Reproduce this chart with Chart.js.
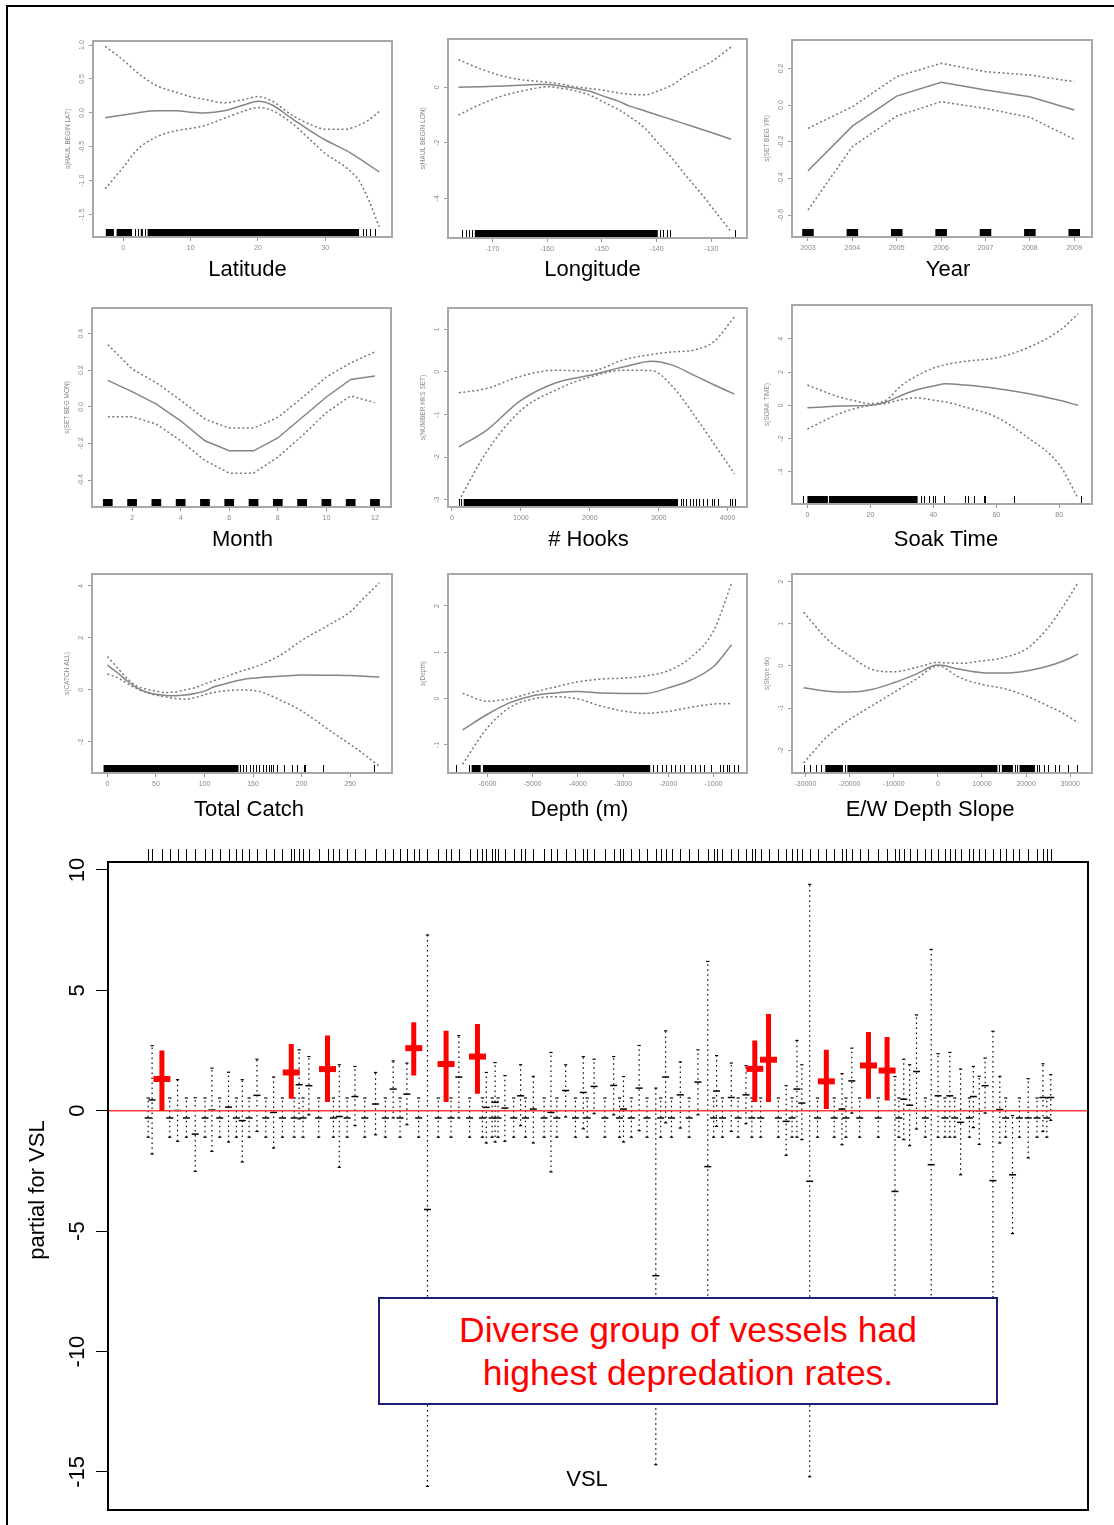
<!DOCTYPE html>
<html><head><meta charset="utf-8">
<script src="https://cdn.jsdelivr.net/npm/chart.js@4.4.1/dist/chart.umd.min.js"></script>
<style>
html,body{margin:0;padding:0;background:#fff;}
body{width:1114px;height:1525px;position:relative;overflow:hidden;font-family:"Liberation Sans",Arial,sans-serif;}
#frame{position:absolute;left:6px;top:5px;right:-4px;bottom:-4px;border-left:2px solid #000;border-top:2px solid #000;}
canvas{position:absolute;}
#note{position:absolute;left:378px;top:1297px;width:620px;height:108px;box-sizing:border-box;border:2px solid #1c1c7a;background:#fff;color:#f00;font-size:35.5px;line-height:43px;text-align:center;padding-top:10px;}
</style></head><body>
<div id="frame"></div>
<canvas id="big" width="1114" height="695" style="left:0;top:830px"></canvas>
<div id="note">Diverse group of vessels had<br>highest depredation rates.</div>
<script>
const FONT = '"Liberation Sans", Arial, sans-serif';

// Latitude
const latX   = [-2.7, 0, 2, 5, 8, 10, 12, 15, 18, 20, 22, 25, 28, 30, 33, 35, 36.5, 38];
const latFit = [-0.07, -0.03, 0.0, 0.03, 0.03, 0.01, 0.0, 0.03, 0.12, 0.17, 0.12, -0.08, -0.28, -0.4, -0.55, -0.67, -0.77, -0.87];
const latUp  = [0.98, 0.78, 0.6, 0.4, 0.3, 0.24, 0.2, 0.15, 0.2, 0.24, 0.18, -0.03, -0.18, -0.24, -0.24, -0.18, -0.1, 0.02];
const latLo  = [-1.12, -0.8, -0.55, -0.35, -0.26, -0.23, -0.19, -0.08, 0.03, 0.08, 0.04, -0.15, -0.42, -0.6, -0.8, -1.0, -1.3, -1.68];
const latXTicks = [0, 10, 20, 30];
const latYTicks = [1.0, 0.5, 0.0, -0.5, -1.0, -1.5];
const latRugBands = [[-2.6,-1.4],[-1,1.3],[2.6,2.9],[3.6,35]];
const latRugTicks = [1.8, 2.2, 3.2, 35.6, 36.1, 36.6, 37.4];

// Longitude
const lonX   = [-176.2, -172, -168, -165, -162, -160, -157, -155, -152, -150, -147, -145, -142, -140, -137, -135, -132, -130, -126.4];
const lonFit = [0.0, 0.02, 0.05, 0.07, 0.1, 0.1, 0.03, -0.03, -0.15, -0.3, -0.5, -0.67, -0.86, -0.99, -1.18, -1.31, -1.5, -1.63, -1.87];
const lonUp  = [1.0, 0.65, 0.4, 0.28, 0.22, 0.18, 0.1, 0.02, -0.05, -0.1, -0.2, -0.25, -0.27, -0.15, 0.1, 0.38, 0.7, 0.92, 1.45];
const lonLo  = [-1.0, -0.6, -0.3, -0.15, -0.03, 0.02, -0.05, -0.12, -0.3, -0.5, -0.8, -1.05, -1.5, -1.95, -2.6, -3.1, -3.8, -4.3, -5.2];
const lonXTicks = [-170, -160, -150, -140, -130];
const lonYTicks = [0, -2, -4];
const lonRugBands = [[-173.2,-139.8]];
const lonRugTicks = [-175.5, -174.8, -174.2, -173.7, -139.3, -138.8, -138.2, -137.6, -125.7];

// Year
const yrX   = [2003, 2004, 2005, 2006, 2007, 2008, 2009];
const yrFit = [-0.358, -0.115, 0.049, 0.124, 0.082, 0.045, -0.027];
const yrUp  = [-0.127, -0.009, 0.155, 0.228, 0.182, 0.164, 0.127];
const yrLo  = [-0.573, -0.227, -0.06, 0.018, -0.018, -0.067, -0.187];
const yrXTicks = [2003, 2004, 2005, 2006, 2007, 2008, 2009];
const yrYTicks = [0.2, 0.0, -0.2, -0.4, -0.6];
const yrRugBands = [[2002.87,2003.13],[2003.87,2004.13],[2004.87,2005.13],[2005.87,2006.13],[2006.87,2007.13],[2007.87,2008.13],[2008.87,2009.13]];

// Month
const monX   = [1, 2, 3, 4, 5, 6, 7, 8, 9, 10, 11, 12];
const monFit = [0.145, 0.083, 0.015, -0.076, -0.185, -0.24, -0.24, -0.17, -0.058, 0.054, 0.15, 0.168];
const monUp  = [0.34, 0.207, 0.132, 0.036, -0.067, -0.116, -0.116, -0.058, 0.05, 0.163, 0.24, 0.3];
const monLo  = [-0.054, -0.054, -0.094, -0.185, -0.293, -0.362, -0.362, -0.275, -0.158, -0.031, 0.06, 0.023];
const monXTicks = [2, 4, 6, 8, 10, 12];
const monYTicks = [0.4, 0.2, 0.0, -0.2, -0.4];
const monRugBands = [[0.8,1.2],[1.8,2.2],[2.8,3.2],[3.8,4.2],[4.8,5.2],[5.8,6.2],[6.8,7.2],[7.8,8.2],[8.8,9.2],[9.8,10.2],[10.8,11.2],[11.8,12.2]];

// # Hooks
const hkX   = [100, 500, 1000, 1500, 2000, 2500, 2900, 3200, 3500, 3800, 4100];
const hkFit = [-1.76, -1.37, -0.67, -0.26, -0.08, 0.12, 0.25, 0.16, -0.07, -0.3, -0.52];
const hkUp  = [-0.49, -0.39, -0.1, 0.04, 0.02, 0.29, 0.41, 0.47, 0.51, 0.71, 1.29];
const hkLo  = [-3.02, -1.88, -0.9, -0.43, -0.12, 0.04, 0.03, -0.34, -0.98, -1.68, -2.39];
const hkXTicks = [0, 1000, 2000, 3000, 4000];
const hkYTicks = [1, 0, -1, -2, -3];
const hkRugBands = [[170,3280]];
const hkRugTicks = [100, 130, 3320, 3360, 3400, 3450, 3500, 3540, 3580, 3640, 3700, 3780, 3810, 3860, 4040, 4060, 4110];

// Soak Time
const skX   = [0, 5, 10, 15, 20, 25, 30, 35, 40, 44, 50, 60, 70, 80, 86];
const skFit = [-0.14, -0.1, -0.04, -0.02, 0.0, 0.2, 0.61, 0.95, 1.16, 1.3, 1.22, 1.02, 0.71, 0.3, 0.0];
const skUp  = [1.22, 0.85, 0.51, 0.28, 0.1, 0.31, 1.22, 1.8, 2.24, 2.45, 2.65, 2.86, 3.47, 4.49, 5.51];
const skLo  = [-1.43, -0.95, -0.51, -0.2, 0.0, 0.12, 0.35, 0.45, 0.31, 0.2, -0.1, -0.71, -1.94, -3.57, -5.61];
const skXTicks = [0, 20, 40, 60, 80];
const skYTicks = [4, 2, 0, -2, -4];
const skRugBands = [[0,6.5],[7,35]];
const skRugTicks = [-1.4, 6.8, 36, 37, 38.5, 40, 40.4, 43.5, 50, 51, 53, 56, 56.5, 65.5, 87];

// Total Catch
const ctX   = [0, 10, 20, 30, 40, 50, 60, 70, 80, 90, 100, 110, 120, 130, 140, 150, 160, 180, 200, 230, 250, 260, 280];
const ctFit = [0.95, 0.67, 0.35, 0.09, -0.08, -0.17, -0.22, -0.23, -0.2, -0.14, -0.05, 0.12, 0.22, 0.32, 0.4, 0.45, 0.49, 0.53, 0.57, 0.56, 0.55, 0.53, 0.5];
const ctUp  = [1.28, 0.86, 0.45, 0.15, 0.03, -0.05, -0.1, -0.08, 0.0, 0.08, 0.22, 0.36, 0.48, 0.62, 0.75, 0.86, 1.0, 1.38, 1.9, 2.54, 3.0, 3.38, 4.12];
const ctLo  = [0.61, 0.48, 0.25, 0.05, -0.1, -0.2, -0.27, -0.33, -0.36, -0.3, -0.19, -0.1, -0.04, -0.01, 0.0, -0.02, -0.1, -0.43, -0.81, -1.59, -2.1, -2.36, -2.94];
const ctXTicks = [0, 50, 100, 150, 200, 250];
const ctYTicks = [4, 2, 0, -2];
const ctRugBands = [[-4,135]];
const ctRugTicks = [137, 140, 143, 147, 150, 153, 156, 160, 163, 166, 168, 171, 175, 182, 190, 195, 202, 204, 222, 275];

// Depth (m)
const dpX   = [-6550, -6000, -5500, -5000, -4500, -4000, -3500, -3000, -2500, -2000, -1500, -1000, -600];
const dpFit = [-0.68, -0.34, -0.09, 0.06, 0.12, 0.15, 0.12, 0.11, 0.11, 0.23, 0.4, 0.69, 1.16];
const dpUp  = [0.11, -0.06, 0.0, 0.13, 0.25, 0.36, 0.42, 0.44, 0.49, 0.6, 0.89, 1.46, 2.49];
const dpLo  = [-1.42, -0.63, -0.19, -0.01, 0.04, -0.01, -0.16, -0.27, -0.32, -0.28, -0.19, -0.12, -0.11];
const dpXTicks = [-6000, -5000, -4000, -3000, -2000, -1000];
const dpYTicks = [2, 1, 0, -1];
const dpRugBands = [[-6350,-6150],[-6100,-2400]];
const dpRugTicks = [-6700, -6400, -2350, -2250, -2150, -2050, -1950, -1850, -1750, -1650, -1500, -1400, -1300, -1200, -1050, -850, -800, -700, -650, -550, -450];

// E/W Depth Slope
const slX   = [-30400, -25000, -20000, -15000, -10000, -5000, 0, 5000, 10000, 15000, 20000, 25000, 28000, 31800];
const slFit = [-0.52, -0.6, -0.62, -0.56, -0.4, -0.2, 0.02, -0.08, -0.16, -0.17, -0.12, 0.0, 0.1, 0.28];
const slUp  = [1.27, 0.63, 0.24, -0.08, -0.14, -0.04, 0.08, 0.06, 0.12, 0.2, 0.4, 0.91, 1.35, 1.98];
const slLo  = [-2.3, -1.67, -1.27, -0.95, -0.63, -0.32, 0.0, -0.28, -0.44, -0.54, -0.71, -0.95, -1.1, -1.35];
const slXTicks = [-30000, -20000, -10000, 0, 10000, 20000, 30000];
const slYTicks = [2, 1, 0, -1, -2];
const slRugBands = [[-25500,-21500],[-20500,13500],[14500,17000],[18500,22000]];
const slRugTicks = [-30400, -29000, -27500, -26500, -21000, 13800, 17500, 18000, 22500, 23000, 24000, 25000, 26500, 27500, 29500, 31500];

// VSL partial effects (position along the VSL axis, fit and +/- 2se band)
const vslPos = [
  4.1, 4.5, 5.5, 6.3, 7.1, 8.0, 8.9, 9.9, 10.6, 11.4,
  12.3, 13.1, 13.7, 14.4, 15.2, 16.1, 16.9, 17.8, 18.7, 19.0,
  19.5, 19.9, 20.5, 21.5, 22.4, 23.0, 23.6, 24.4, 25.2, 26.2,
  27.3, 28.3, 29.1, 29.8, 30.5, 31.2, 31.7, 32.6, 33.7, 34.5,
  35.0, 35.8, 36.9, 37.7, 38.2, 38.6, 39.2, 39.5, 39.8, 40.5,
  41.4, 42.1, 42.6, 43.4, 44.5, 45.2, 45.8, 46.7, 47.7, 48.5,
  48.9, 49.6, 50.7, 51.6, 52.2, 52.6, 53.4, 54.2, 55.0, 55.9,
  56.4, 56.9, 57.5, 58.4, 59.3, 60.2, 61.2, 61.8, 62.1, 62.7,
  63.6, 64.3, 65.1, 65.7, 66.0, 66.6, 67.4, 68.4, 69.2, 69.8,
  70.3, 70.8, 71.6, 72.4, 73.3, 74.1, 74.9, 75.3, 75.9, 76.7,
  77.6, 78.6, 79.5, 80.3, 80.7, 81.2, 81.8, 82.5, 83.4, 84.0,
  84.7, 85.4, 85.9, 86.4, 87.0, 87.9, 88.3, 88.9, 89.5, 90.3,
  91.0, 91.6, 92.3, 93.0, 93.9, 94.8, 95.4, 95.8, 96.2];
const vslHi = [
  0.53, 2.7, 2.5, 0.53, 1.29, 0.53, 0.54, 0.53, 1.77, 0.53,
  1.6, 0.53, 1.29, 0.53, 2.14, 0.53, 1.4, 0.53, 2.77, 0.53,
  2.53, 0.53, 2.25, 0.53, 3.12, 0.53, 1.91, 0.53, 1.84, 0.53,
  1.59, 0.53, 2.07, 0.53, 1.98, 3.68, 0.53, 7.3, 0.53, 3.32,
  0.53, 3.12, 0.53, 3.6, 0.53, 1.59, 0.53, 2.0, 0.53, 1.46,
  0.53, 1.91, 0.53, 1.43, 0.53, 2.42, 0.53, 1.91, 0.53, 2.25,
  0.53, 2.14, 0.53, 2.25, 0.53, 1.42, 0.53, 2.71, 0.53, 0.94,
  0.53, 3.32, 0.53, 2.03, 0.53, 2.53, 6.2, 0.53, 2.29, 0.53,
  1.98, 0.53, 1.87, 0.53, 2.92, 0.53, 4.02, 0.53, 1.04, 0.53,
  2.92, 1.91, 9.4, 0.53, 2.53, 0.53, 1.54, 0.53, 2.6, 0.53,
  3.27, 0.53, 3.06, 1.42, 0.53, 2.14, 1.91, 3.98, 0.53, 6.7,
  2.37, 0.53, 2.42, 0.53, 1.73, 0.53, 1.84, 1.43, 2.19, 3.3,
  1.43, 0.53, -0.2, 0.53, 1.33, 0.53, 1.95, 0.53, 1.5];
const vslFit = [
  -0.3, 0.45, 1.32, -0.3, 0.01, -0.3, -0.97, -0.3, 0.03, -0.3,
  0.15, -0.3, -0.41, -0.3, 0.64, -0.3, -0.07, -0.3, 1.59, -0.3,
  1.08, -0.3, 1.04, -0.3, 1.73, -0.3, -0.24, -0.3, 0.59, -0.3,
  0.28, -0.3, 0.9, -0.3, 0.69, 2.6, -0.3, -4.1, -0.3, 1.94,
  -0.3, 1.4, -0.3, 2.25, -0.3, 0.14, -0.3, 0.35, -0.3, 0.11,
  -0.3, 0.62, -0.3, 0.07, -0.3, -0.07, -0.3, 0.84, -0.3, 0.76,
  -0.3, 1.01, -0.3, 1.05, -0.3, 0.07, -0.3, 0.94, -0.3, -6.85,
  -0.3, 1.4, -0.3, 0.66, -0.3, 1.19, -2.32, -0.3, 0.82, -0.3,
  0.55, -0.3, 0.66, -0.3, 1.74, -0.3, 2.12, -0.3, -0.44, -0.3,
  0.9, 0.32, -2.93, -0.3, 1.22, -0.3, 0.07, -0.3, 1.24, -0.3,
  1.88, -0.3, 1.67, -3.35, -0.3, 0.48, 0.23, 1.63, -0.3, -2.24,
  0.62, -0.3, 0.62, -0.3, -0.48, -0.3, 0.59, 0.0, 1.04, -2.9,
  0.05, -0.3, -2.66, -0.3, -0.3, -0.3, 0.55, -0.3, 0.55];
const vslLo = [
  -1.1, -1.8, 0.0, -1.1, -1.27, -1.1, -2.52, -1.1, -1.69, -1.1,
  -1.3, -1.1, -2.13, -1.1, -0.86, -1.1, -1.55, -1.1, 0.5, -1.1,
  -0.34, -1.1, -0.17, -1.1, 0.36, -1.1, -2.35, -1.1, -0.62, -1.1,
  -1.0, -1.1, -0.3, -1.1, -0.58, 1.46, -1.1, -15.6, -1.1, 0.36,
  -1.1, -0.3, -1.1, 0.71, -1.1, -1.34, -1.1, -1.3, -1.1, -1.27,
  -1.1, -0.62, -1.1, -1.34, -1.1, -2.54, -1.1, -0.26, -1.1, -0.75,
  -1.1, -0.12, -1.1, -0.17, -1.1, -1.3, -1.1, -0.83, -1.1, -14.7,
  -1.1, -0.5, -1.1, -0.72, -1.1, -0.17, -10.8, -1.1, -0.65, -1.1,
  -0.86, -1.1, -0.54, -1.1, 0.36, -1.1, 0.36, -1.1, -1.85, -1.1,
  -1.1, -1.2, -15.2, -1.1, 0.07, -1.1, -1.41, -1.1, -0.1, -1.1,
  0.5, -1.1, 0.43, -8.1, -1.1, -1.2, -1.45, -0.76, -1.1, -11.2,
  -1.1, -1.1, -1.1, -1.1, -2.66, -1.1, -0.7, -1.4, -0.1, -9.0,
  -1.34, -1.1, -5.1, -1.1, -1.96, -1.1, -0.86, -1.1, -0.4];
// vessels (1-based) with the highest depredation, drawn in red
const highVessels = [3, 19, 25, 36, 40, 44, 85, 87, 95, 101, 103];
const vslYTicks = [10, 5, 0, -5, -10, -15];
const vslRefLine = 0;

// draws the R-style bits: box, rug, rotated y labels, axis titles
const rPanel = {
  id: 'rPanel',
  afterDraw(chart, args, o) {
    const {ctx, chartArea: a, scales: {x, y}} = chart;
    ctx.save();
    ctx.fillStyle = '#000'; ctx.strokeStyle = '#000'; ctx.lineWidth = 1;
    (o.rugBands || []).forEach(([u, v]) => {
      const p1 = x.getPixelForValue(u), p2 = x.getPixelForValue(v);
      ctx.fillRect(p1, a.bottom - o.rugH, p2 - p1, o.rugH);
    });
    (o.rugTicks || []).forEach(v => {
      const p = Math.round(x.getPixelForValue(v)) + 0.5;
      ctx.beginPath(); ctx.moveTo(p, a.bottom); ctx.lineTo(p, a.bottom - o.rugH); ctx.stroke();
    });
    (o.rugTop || []).forEach(v => {
      const p = Math.round(x.getPixelForValue(v)) + 0.5;
      ctx.beginPath(); ctx.moveTo(p, a.top - 1); ctx.lineTo(p, a.top - o.rugH); ctx.stroke();
    });
    ctx.strokeStyle = o.boxColor; ctx.lineWidth = o.boxW;
    ctx.strokeRect(a.left, a.top, a.right - a.left, a.bottom - a.top);

    ctx.fillStyle = o.tickColor; ctx.font = o.tickFont;
    ctx.textAlign = 'center'; ctx.textBaseline = 'middle';
    y.ticks.forEach(t => {
      ctx.save();
      ctx.translate(a.left - o.tickGap, y.getPixelForValue(t.value));
      ctx.rotate(-Math.PI / 2);
      ctx.fillText(t.value.toFixed(o.digits), 0, 0);
      ctx.restore();
    });
    ctx.save();
    ctx.fillStyle = o.titleColor; ctx.font = o.titleFont;
    ctx.translate(a.left - o.titleGap, (a.top + a.bottom) / 2 + (o.titleDy || 0));
    ctx.rotate(-Math.PI / 2);
    ctx.fillText(o.ytitle, 0, 0);
    ctx.restore();
    ctx.fillStyle = '#000'; ctx.font = o.labelFont;
    ctx.fillText(o.label, (a.left + a.right) / 2 + o.labelDx, a.bottom + o.labelDy);
    ctx.restore();
  }
};

const panels = [
  {box:[93,41,392,237],  xr:[-4.5,39.9],    yr:[-1.83,1.06],  x:latX, fit:latFit, up:latUp, lo:latLo, xt:latXTicks, yt:latYTicks, dig:1, bands:latRugBands, ticks:latRugTicks, ytitle:'s(HAUL BEGIN LAT)', label:'Latitude', dx:5, dy:33, smooth:true},
  {box:[448,39,747,238], xr:[-178.1,-123.5], yr:[-5.43,1.74], x:lonX, fit:lonFit, up:lonUp, lo:lonLo, xt:lonXTicks, yt:lonYTicks, dig:0, bands:lonRugBands, ticks:lonRugTicks, ytitle:'s(HAUL BEGIN LON)', label:'Longitude', dx:-5, dy:32, smooth:true},
  {box:[792,40,1092,237], xr:[2002.64,2009.4], yr:[-0.72,0.355], x:yrX, fit:yrFit, up:yrUp, lo:yrLo, xt:yrXTicks, yt:yrYTicks, dig:1, bands:yrRugBands, ticks:[], ytitle:'s(SET BEG YR)', label:'Year', dx:6, dy:33, smooth:false},
  {box:[92,308,391,507], xr:[0.35,12.66],   yr:[-0.547,0.54], x:monX, fit:monFit, up:monUp, lo:monLo, xt:monXTicks, yt:monYTicks, dig:1, bands:monRugBands, ticks:[], ytitle:'s(SET BEG MON)', label:'Month', dx:1, dy:33, smooth:false},
  {box:[448,308,747,507], xr:[-58,4282],    yr:[-3.17,1.5],   x:hkX, fit:hkFit, up:hkUp, lo:hkLo, xt:hkXTicks, yt:hkYTicks, dig:0, bands:hkRugBands, ticks:hkRugTicks, ytitle:'s(NUMBER HKS SET)', label:'# Hooks', dx:-9, dy:33, smooth:true},
  {box:[792,305,1092,504], xr:[-4.9,90.4],  yr:[-5.94,6.04],  x:skX, fit:skFit, up:skUp, lo:skLo, xt:skXTicks, yt:skYTicks, dig:0, bands:skRugBands, ticks:skRugTicks, ytitle:'s(SOAK TIME)', label:'Soak Time', dx:4, dy:36, smooth:true},
  {box:[92,574,392,773], xr:[-15.9,293.1],  yr:[-3.2,4.46],   x:ctX, fit:ctFit, up:ctUp, lo:ctLo, xt:ctXTicks, yt:ctYTicks, dig:0, bands:ctRugBands, ticks:ctRugTicks, ytitle:'s(CATCH ALL)', label:'Total Catch', dx:7, dy:37, smooth:true},
  {box:[448,574,747,773], xr:[-6873,-260],  yr:[-1.61,2.69],  x:dpX, fit:dpFit, up:dpUp, lo:dpLo, xt:dpXTicks, yt:dpYTicks, dig:0, bands:dpRugBands, ticks:dpRugTicks, ytitle:'s(Depth)', label:'Depth (m)', dx:-18, dy:37, smooth:true},
  {box:[792,574,1092,773], xr:[-33042,34926], yr:[-2.54,2.18], x:slX, fit:slFit, up:slUp, lo:slLo, xt:slXTicks, yt:slYTicks, dig:0, bands:slRugBands, ticks:slRugTicks, ytitle:'s(Slope dx)', label:'E/W Depth Slope', dx:-12, dy:37, smooth:true}
];

function smallChart(p) {
  const [L, T, R, B] = p.box;
  const cv = document.createElement('canvas');
  cv.width = R - L + 56; cv.height = B - T + 54;
  cv.style.left = (L - 40) + 'px'; cv.style.top = (T - 4) + 'px';
  document.body.appendChild(cv);
  const line = (ys, dash) => ({
    data: p.x.map((x, i) => ({x, y: ys[i]})),
    borderColor: dash ? '#767676' : '#858585',
    borderWidth: 1.5,
    borderDash: dash ? [2, 2.5] : [],
    pointRadius: 0,
    tension: p.smooth ? 0.4 : 0,
    cubicInterpolationMode: p.smooth ? 'monotone' : 'default'
  });
  new Chart(cv, {
    type: 'line',
    data: {datasets: [line(p.fit, false), line(p.up, true), line(p.lo, true)]},
    options: {
      responsive: false, animation: false, devicePixelRatio: 1,
      layout: {padding: {left: 0, top: 4, right: 16, bottom: 0}},
      plugins: {
        legend: {display: false}, tooltip: {enabled: false},
        rPanel: {rugBands: p.bands, rugTicks: p.ticks, rugH: 8, boxColor: '#a8a8a8', boxW: 2,
          tickColor: '#888', tickFont: '7px ' + FONT, tickGap: 11, digits: p.dig,
          titleColor: '#8a8a8a', titleFont: '6.5px ' + FONT, titleGap: 25, ytitle: p.ytitle,
          labelFont: '22px ' + FONT, label: p.label, labelDx: p.dx, labelDy: p.dy}
      },
      scales: {
        x: {type: 'linear', min: p.xr[0], max: p.xr[1],
          afterBuildTicks: s => { s.ticks = p.xt.map(v => ({value: v})); },
          afterFit: s => { s.height = 50; },
          grid: {drawOnChartArea: false, tickLength: 4, color: '#999'},
          border: {display: false},
          ticks: {color: '#888', font: {size: 7, family: FONT}, padding: 3, maxRotation: 0, autoSkip: false, callback: v => String(v)}},
        y: {type: 'linear', min: p.yr[0], max: p.yr[1],
          afterBuildTicks: s => { s.ticks = p.yt.map(v => ({value: v})); },
          afterFit: s => { s.width = 40; },
          grid: {drawOnChartArea: false, tickLength: 4, color: '#999'},
          border: {display: false},
          ticks: {display: false}}
      }
    },
    plugins: [rPanel]
  });
}
panels.forEach(smallChart);

// VSL panel
const isHigh = vslPos.map((_, i) => highVessels.includes(i + 1));
const blackWhisk = [], redWhisk = [], caps = [], fits = [], redFits = [];
vslPos.forEach((p, i) => {
  if (isHigh[i]) {
    redWhisk.push({x: p, y: vslLo[i]}, {x: p, y: vslHi[i]}, {x: p, y: null});
    redFits.push({x: p, y: vslFit[i]});
  } else {
    blackWhisk.push({x: p, y: vslLo[i]}, {x: p, y: vslHi[i]}, {x: p, y: null});
    caps.push({x: p, y: vslLo[i]}, {x: p, y: vslHi[i]});
    fits.push({x: p, y: vslFit[i]});
  }
});

new Chart(document.getElementById('big'), {
  type: 'line',
  data: {datasets: [
    {type: 'scatter', data: redFits, pointStyle: 'line', pointRadius: 8.5, pointBorderWidth: 6, pointBorderColor: '#ff0000'},
    {data: redWhisk, borderColor: '#ff0000', borderWidth: 5, pointRadius: 0, spanGaps: false},
    {data: [{x: 0, y: vslRefLine}, {x: 100, y: vslRefLine}], borderColor: '#ff3b3b', borderWidth: 1.3, pointRadius: 0},
    {type: 'scatter', data: fits, pointStyle: 'line', pointRadius: 3.5, pointBorderWidth: 1.5, pointBorderColor: '#000'},
    {type: 'scatter', data: caps, pointStyle: 'line', pointRadius: 1.6, pointBorderWidth: 1.2, pointBorderColor: '#000'},
    {data: blackWhisk, borderColor: '#000', borderWidth: 1.2, borderDash: [1.5, 3.5], pointRadius: 0, spanGaps: false}
  ]},
  options: {
    responsive: false, animation: false, devicePixelRatio: 1,
    layout: {padding: {left: 0, top: 32, right: 26, bottom: 15}},
    plugins: {
      legend: {display: false}, tooltip: {enabled: false},
      rPanel: {rugTop: vslPos, rugH: 13, boxColor: '#000', boxW: 2,
        tickColor: '#000', tickFont: '22px ' + FONT, tickGap: 30, digits: 0,
        titleColor: '#000', titleFont: '22px ' + FONT, titleGap: 70, titleDy: 4, ytitle: 'partial for VSL',
        labelFont: '22px ' + FONT, label: 'VSL', labelDx: -11, labelDy: -30}
    },
    scales: {
      x: {type: 'linear', display: false, min: 0, max: 100},
      y: {type: 'linear', min: -16.58, max: 10.33,
        afterBuildTicks: s => { s.ticks = vslYTicks.map(v => ({value: v})); },
        afterFit: s => { s.width = 108; },
        grid: {drawOnChartArea: false, tickLength: 12, color: '#000', lineWidth: 1},
        border: {display: false},
        ticks: {display: false}}
    }
  },
  plugins: [rPanel]
});
</script></body></html>
